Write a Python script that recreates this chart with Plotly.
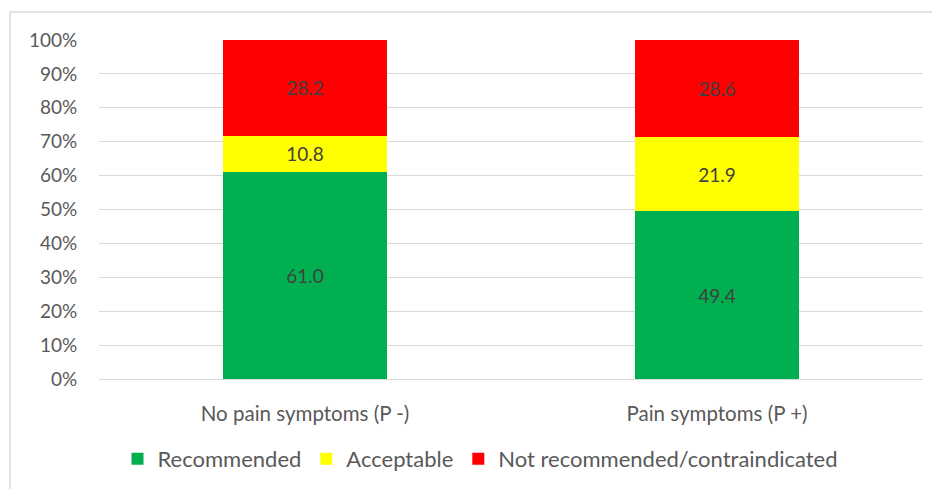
import plotly.graph_objects as go

categories = ["No pain symptoms (P -)", "Pain symptoms (P +)"]
recommended = [61.0, 49.4]
acceptable = [10.8, 21.9]
not_recommended = [28.2, 28.6]
series_names = ["Recommended", "Acceptable", "Not recommended/contraindicated"]
colors = ["#00B050", "#FFFF00", "#FF0000"]
tick_vals = [0, 10, 20, 30, 40, 50, 60, 70, 80, 90, 100]
tick_text = ["0%", "10%", "20%", "30%", "40%", "50%", "60%", "70%", "80%", "90%", "100%"]

FONT = "Lato, sans-serif"
TXT = "#595959"

fig = go.Figure()
for name, vals, col in zip(series_names, [recommended, acceptable, not_recommended], colors):
    fig.add_trace(go.Bar(
        x=categories, y=vals, name=name, marker=dict(color=col, line=dict(width=0)),
        text=[f"{v:.1f}" for v in vals], texttemplate="%{text}", textposition="inside",
        insidetextanchor="middle", textfont=dict(color="#404040", size=19, family=FONT),
        width=0.4,
    ))

# page body adds an 8px offset; margins compensate so the plot area matches the reference
fig.update_layout(
    barmode="stack", barnorm="percent",
    width=940, height=489,
    margin=dict(l=91, r=25, t=32, b=118, autoexpand=False),
    paper_bgcolor="white", plot_bgcolor="white",
    font=dict(family=FONT, color=TXT, size=19),
    showlegend=True,
    legend=dict(orientation="h", x=0.463, xanchor="center", y=-0.236, yanchor="middle",
                font=dict(size=22, color=TXT, family=FONT), traceorder="normal",
                itemwidth=30),
    xaxis=dict(showline=False, ticks="outside", ticklen=16, tickcolor="rgba(0,0,0,0)",
               tickfont=dict(size=20.5, color=TXT)),
    yaxis=dict(range=[0, 100], tickmode="array", tickvals=tick_vals, ticktext=tick_text,
               showgrid=True, gridcolor="#D9D9D9", gridwidth=1.3, zeroline=True,
               zerolinecolor="#D9D9D9", zerolinewidth=1.3, tickfont=dict(size=19, color=TXT),
               ticks="outside", ticklen=17, tickcolor="rgba(0,0,0,0)"),
    shapes=[dict(type="rect", xref="paper", yref="paper",
                 x0=(10 - 99) / 824, x1=(945 - 99) / 824,
                 y0=(379 - 495) / 339, y1=(379 - 12) / 339,
                 line=dict(color="#D9D9D9", width=1.5), layer="below")],
)

fig.write_html("out.html")
